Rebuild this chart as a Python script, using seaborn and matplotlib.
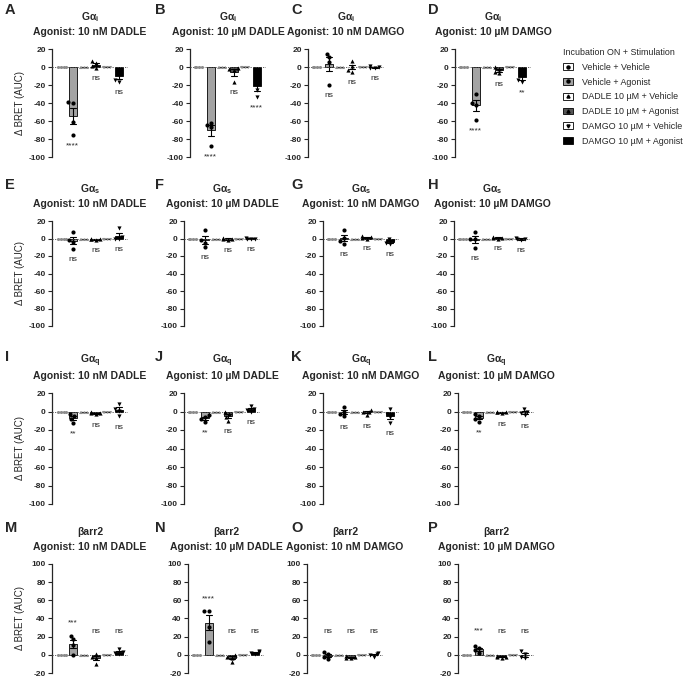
import warnings
import numpy as np
import pandas as pd
import matplotlib
matplotlib.use("Agg")
import matplotlib.pyplot as plt
import seaborn as sns
from matplotlib.patches import Patch
from matplotlib.lines import Line2D

warnings.filterwarnings("ignore")

# groups / legend
groups = ["Vehicle + Vehicle", "Vehicle + Agonist",
          "DADLE 10 µM + Vehicle", "DADLE 10 µM + Agonist",
          "DAMGO 10 µM + Vehicle", "DAMGO 10 µM + Agonist"]
bar_colors = ["white", "#a3a3a3", "white", "#555555", "white", "black"]
markers = ["o", "o", "^", "^", "v", "v"]

letters = list("ABCDEFGHIJKLMNOP")
sensors = ["Gα$_\\mathbf{i}$", "Gα$_\\mathbf{s}$", "Gα$_\\mathbf{q}$", "βarr2"]
agonists = ["Agonist: 10 nM DADLE", "Agonist: 10 µM DADLE",
            "Agonist: 10 nM DAMGO", "Agonist: 10 µM DAMGO"]

vehicle = [0, 0, 0, 0]

# one entry per panel A..P
veh_ag = [
    [-39, -40, -61, -76], [-62, -64, -67, -88], [15, 11, 6, -20], [-30, -40, -42, -59],
    [7, -2, -4, -12], [10, -2, -5, -10], [10, 1, -3, -6], [7, 0, -1, -11],
    [-3, -5, -8, -12], [-4, -6, -8, -11], [5, 0, -3, -5], [-3, -5, -8, -11],
    [21, 17, 11, 0], [48, 48, 31, 14], [3, 1, -2, -5], [10, 8, 5, 2],
]
dadle_ag = [
    [7, 4, 1, -1], [-1, -2, -3, -17], [7, 1, -3, -5], [0, -2, -5, -7],
    [-2, -1, -1, 0], [1, 0, -1, -2], [3, 2, 1, 0], [2, 1, 1, 0],
    [-1, -2, -2, -3], [-1, -3, -6, -10], [2, 0, -1, -4], [0, -1, -1, -2],
    [1, -2, -4, -10], [0, -2, -3, -8], [-1, -2, -3, -4], [-1, -2, -3, -2],
]
damgo_ag = [
    [-3, -8, -14, -17], [-10, -18, -25, -33], [1, 0, -1, -1], [-5, -10, -14, -17],
    [12, 2, 0, -1], [1, 0, 0, -1], [-1, -3, -5, -6], [1, 0, -1, -2],
    [8, 3, 1, -5], [6, 3, 2, 0], [3, -3, -6, -12], [3, 0, -2, -4],
    [6, 3, 2, 1], [4, 3, 2, 1], [2, 1, 0, -2], [4, 1, -2, -4],
]
sig_veh = ["****", "****", "ns", "****", "ns", "ns", "ns", "ns",
           "**", "**", "ns", "**", "***", "****", "ns", "***"]
sig_dadle = ["ns"] * 16
sig_damgo = ["ns", "****", "ns", "**"] + ["ns"] * 12

# layout (pixels)
W, H = 688, 678
ax_left = [[52, 190, 308, 455], [52, 184, 323, 454], [52, 184, 323, 458], [52, 188, 307, 458]]
ax_top = [49, 221, 393, 564]
ax_bot = [157, 326, 504, 673]
ax_w = 76
letter_x = [5, 155, 291, 428]
letter_y = [10, 185, 357, 528]
ylims = [(-100, 20), (-100, 20), (-100, 20), (-20, 100)]

sns.set_style("ticks")
plt.rcParams["font.family"] = ["Liberation Sans", "DejaVu Sans"]
plt.rcParams["mathtext.fontset"] = "custom"
plt.rcParams["mathtext.bf"] = "Liberation Sans:bold"
plt.rcParams["mathtext.rm"] = "Liberation Sans"
plt.rcParams["axes.unicode_minus"] = False

fig = plt.figure(figsize=(W / 100, H / 100), dpi=100)

for r in range(4):
    for c in range(4):
        k = r * 4 + c
        rows = []
        for g, vals in zip(groups, [vehicle, veh_ag[k], vehicle, dadle_ag[k], vehicle, damgo_ag[k]]):
            rows += [(g, v) for v in vals]
        df = pd.DataFrame(rows, columns=["group", "value"])

        l, t, b = ax_left[r][c], ax_top[r], ax_bot[r]
        ax = fig.add_axes([l / W, 1 - b / H, ax_w / W, (b - t) / H])

        sns.barplot(data=df, x="group", y="value", order=groups, hue="group",
                    hue_order=groups, palette=bar_colors, errorbar="se",
                    capsize=0.55, width=0.68, edgecolor="black", linewidth=0.6,
                    err_kws={"color": "black", "linewidth": 0.8}, legend=False, ax=ax)
        for p in ax.patches:
            if abs(p.get_height()) < 1e-9:
                p.set_linewidth(0)

        # points: vehicle groups in gray (they sit on 0), agonist groups in black
        for i, (g, mk) in enumerate(zip(groups, markers)):
            is_veh = g.endswith("Vehicle")
            sns.swarmplot(data=df[df["group"] == g], x="group", y="value", order=groups,
                          color="0.55" if is_veh else "black", marker=mk,
                          size=2.2 if is_veh else 3, ax=ax, zorder=4)

        ax.axhline(0, color="0.3", lw=0.6, ls=(0, (1.5, 1.5)), zorder=3)

        lo, hi = ylims[r]
        ax.set_xlim(-0.8, 5.8)
        ax.set_ylim(lo, hi)
        ax.set_yticks(range(lo, hi + 1, 20))
        ax.set_xticks([])
        ax.set_xlabel("")
        ax.set_ylabel("")
        sns.despine(ax=ax, bottom=True)
        ax.spines["left"].set_linewidth(0.9)
        ax.tick_params(axis="y", labelsize=6, length=3, width=0.8, pad=1.5)
        for lab in ax.get_yticklabels():
            lab.set_fontweight("bold")

        for gi, vals, s in [(1, veh_ag[k], sig_veh[k]), (3, dadle_ag[k], sig_dadle[k]),
                            (5, damgo_ag[k], sig_damgo[k])]:
            m = np.mean(vals)
            se = np.std(vals, ddof=1) / np.sqrt(len(vals))
            if r < 3:
                ax.text(gi, min(min(vals), m - se) - 8, s, ha="center", va="top", fontsize=6)
            else:
                ax.text(gi, max(max(vals), m + se, 12) + 10, s, ha="center", va="bottom", fontsize=6)

        cx = (l + ax_w / 2) / W
        fig.text(cx, 1 - (t - 17) / H, agonists[c], ha="center", va="center",
                 fontsize=7.5, fontweight="bold")
        fig.text(cx, 1 - (t - 32) / H, sensors[r], ha="center", va="center",
                 fontsize=7.5, fontweight="bold")
        fig.text(letter_x[c] / W, 1 - letter_y[r] / H, letters[k], ha="left", va="center",
                 fontsize=10.5, fontweight="bold")
        if c == 0:
            fig.text(20 / W, 1 - (t + b) / 2 / H, "Δ BRET (AUC)", rotation=90,
                     ha="center", va="center", fontsize=7)

handles = [(Patch(facecolor=col, edgecolor="black", linewidth=0.6),
            Line2D([], [], ls="", marker=mk, color="black", markersize=2.2))
           for col, mk in zip(bar_colors, markers)]
fig.legend(handles, groups, loc="upper left", bbox_to_anchor=(563 / W, 1 - 48 / H),
           title="Incubation ON + Stimulation", frameon=False, fontsize=6.4,
           title_fontsize=6.4, alignment="left", handlelength=1.1, handleheight=0.8,
           handletextpad=1.0, labelspacing=0.65, borderpad=0, borderaxespad=0)

fig.savefig("out.png", dpi=100, facecolor="white")
